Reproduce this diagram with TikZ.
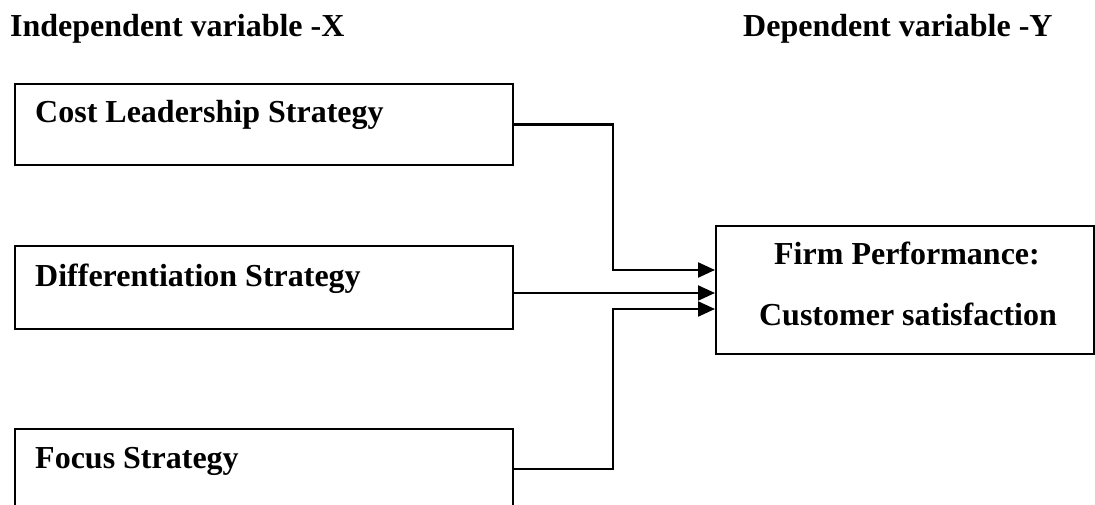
\documentclass[tikz,border=0pt]{standalone}
\usepackage{fontspec}
\setmainfont{Liberation Serif}
\usetikzlibrary{arrows.meta,calc}
\tikzset{
  box/.style={draw, line width=2pt, inner sep=0pt, anchor=north west},
  lbl/.style={inner sep=0pt, font=\fontsize{32}{38}\selectfont\bfseries},
  conn/.style={line width=2.2pt},
  arr/.style={conn, -{Triangle[length=17pt,width=15pt]}}
}
\begin{document}
\begin{tikzpicture}[x=1pt,y=-1pt]
\useasboundingbox (0,0) rectangle (1095,505);
\clip (0,0) rectangle (1095,505);
% header
\node[lbl, anchor=base west] (hx) at (10,37) {Independent variable -X};
\node[lbl, anchor=base west] (hy) at (743,37) {Dependent variable -Y};
% boxes
\node[box, minimum width=498.5pt, minimum height=81pt] (c1) at (13.5,83) {};
\node[box, minimum width=498.5pt, minimum height=83pt] (c2) at (13.5,245) {};
\node[box, minimum width=498.5pt, minimum height=80pt] (c3) at (13.5,428) {};
\node[box, minimum width=378pt, minimum height=128pt] (firm) at (715,225) {};
% labels
\node[lbl, anchor=base west] (t1) at (35,123) {Cost Leadership Strategy};
\node[lbl, anchor=base west] (t2) at (35,287) {Differentiation Strategy};
\node[lbl, anchor=base west] (t3) at (35,468) {Focus Strategy};
\node[lbl, anchor=base] (f1) at (907,265) {Firm Performance:};
\node[lbl, anchor=base] (f2) at (908,325) {Customer satisfaction};
% junctions
\coordinate (j1) at (613,270);
\coordinate (j2) at (512,293);
\coordinate (j3) at (613,309);
% connectors
\draw[arr] (c1.east) -| (j1) -- (j1 -| firm.west);
\draw[arr] (j2) -- (j2 -| firm.west);
\draw[arr] (c3.east) -| (j3) -- (j3 -| firm.west);
\end{tikzpicture}
\end{document}
